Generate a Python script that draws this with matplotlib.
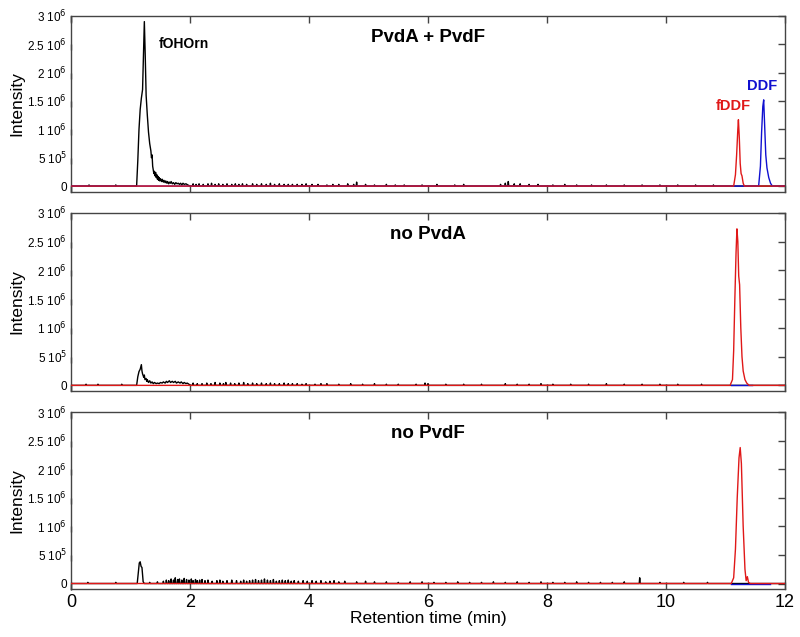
import numpy as np
import matplotlib.pyplot as plt
from matplotlib.ticker import FixedLocator, FixedFormatter

plt.rcParams['font.family'] = ['Liberation Sans', 'DejaVu Sans']

# --- panel 1 : PvdA + PvdF ---
p1_peak_t = [1.00, 1.10, 1.12, 1.14, 1.16, 1.18, 1.20, 1.215, 1.23, 1.245, 1.26, 1.28, 1.30, 1.32,
             1.34, 1.35, 1.36, 1.37, 1.38, 1.39, 1.40, 1.41, 1.42, 1.43, 1.44, 1.45, 1.46, 1.47,
             1.48, 1.49, 1.50, 1.52, 1.53, 1.55, 1.56, 1.58, 1.59, 1.61, 1.62, 1.64, 1.65, 1.67,
             1.68, 1.70, 1.72, 1.74, 1.76, 1.78, 1.80, 1.82, 1.84, 1.86, 1.88, 1.90, 1.93, 1.96,
             2.00]
p1_peak_y = [0.0, 0.0, 0.45, 1.0, 1.35, 1.55, 1.7, 2.3, 2.9, 2.3, 1.6, 1.25, 0.95, 0.75,
             0.62, 0.5, 0.55, 0.35, 0.28, 0.22, 0.26, 0.18, 0.24, 0.15, 0.2, 0.12, 0.17, 0.1,
             0.15, 0.09, 0.13, 0.08, 0.12, 0.07, 0.1, 0.06, 0.09, 0.05, 0.08, 0.04, 0.07, 0.05,
             0.08, 0.04, 0.06, 0.03, 0.06, 0.04, 0.05, 0.03, 0.05, 0.02, 0.05, 0.03, 0.04, 0.02,
             0.0]
p1_noise_t = [0.3, 0.75, 2.05, 2.1, 2.15, 2.22, 2.3, 2.36, 2.42, 2.48, 2.55, 2.62, 2.7, 2.76,
              2.82, 2.88, 2.95, 3.05, 3.12, 3.2, 3.28, 3.35, 3.42, 3.5, 3.58, 3.65, 3.72, 3.8,
              3.88, 3.95, 4.05, 4.15, 4.3, 4.4, 4.5, 4.65, 4.75, 4.8, 4.95, 5.1, 5.3, 5.45, 5.6,
              5.9, 6.15, 6.45, 6.6, 7.22, 7.3, 7.35, 7.45, 7.55, 7.7, 7.85, 8.1, 8.3, 8.5, 8.75,
              9.0, 9.3, 9.6, 9.9, 10.2, 10.5, 10.8]
p1_noise_y = [0.02, 0.02, 0.04, 0.03, 0.04, 0.03, 0.04, 0.05, 0.03, 0.04, 0.03, 0.04, 0.03, 0.04,
              0.03, 0.04, 0.03, 0.04, 0.03, 0.04, 0.03, 0.05, 0.03, 0.04, 0.03, 0.03, 0.03, 0.03,
              0.03, 0.04, 0.03, 0.03, 0.02, 0.03, 0.03, 0.04, 0.03, 0.07, 0.03, 0.02, 0.03, 0.02,
              0.02, 0.02, 0.03, 0.02, 0.03, 0.03, 0.05, 0.08, 0.04, 0.04, 0.03, 0.03, 0.02, 0.03,
              0.02, 0.02, 0.02, 0.02, 0.02, 0.02, 0.02, 0.02, 0.02]
p1_red_t = [11.14, 11.17, 11.19, 11.21, 11.22, 11.235, 11.25, 11.265, 11.28, 11.30, 11.32]
p1_red_y = [0.0, 0.2, 0.55, 1.0, 1.17, 0.85, 0.4, 0.22, 0.18, 0.05, 0.0]
p1_blue_t = [11.56, 11.59, 11.61, 11.63, 11.645, 11.66, 11.68, 11.70, 11.73, 11.76, 11.79]
p1_blue_y = [0.0, 0.35, 0.95, 1.4, 1.52, 1.1, 0.55, 0.32, 0.15, 0.05, 0.0]

# --- panel 2 : no PvdA ---
p2_peak_t = [1.00, 1.10, 1.12, 1.14, 1.16, 1.18, 1.19, 1.20, 1.22, 1.23, 1.24, 1.26, 1.27,
             1.28, 1.30, 1.32, 1.34, 1.36, 1.38, 1.40, 1.43, 1.45, 1.48, 1.50, 1.53, 1.55,
             1.58, 1.60, 1.62, 1.65, 1.67, 1.70, 1.72, 1.75, 1.77, 1.80, 1.83, 1.85, 1.88,
             1.90, 1.93, 1.95, 1.98, 2.0]
p2_peak_y = [0.0, 0.0, 0.15, 0.24, 0.28, 0.36, 0.25, 0.2, 0.14, 0.18, 0.1, 0.12, 0.07,
             0.1, 0.05, 0.08, 0.04, 0.06, 0.03, 0.05, 0.03, 0.04, 0.03, 0.05, 0.04, 0.06,
             0.04, 0.07, 0.05, 0.08, 0.05, 0.07, 0.05, 0.07, 0.04, 0.06, 0.04, 0.06, 0.03,
             0.05, 0.03, 0.04, 0.02, 0.0]
p2_noise_t = [0.25, 0.45, 0.85, 2.05, 2.12, 2.2, 2.28, 2.35, 2.42, 2.5, 2.56, 2.6, 2.68,
              2.75, 2.82, 2.9, 2.97, 3.05, 3.12, 3.2, 3.28, 3.35, 3.42, 3.5, 3.58, 3.65,
              3.72, 3.8, 3.88, 3.95, 4.1, 4.2, 4.3, 4.5, 4.7, 4.9, 5.1, 5.3, 5.5, 5.8, 5.95,
              6.0, 6.3, 6.6, 6.9, 7.3, 7.5, 7.7, 7.9, 8.1, 8.4, 8.7, 9.0, 9.3, 9.6, 9.9,
              10.2, 10.6]
p2_noise_y = [0.02, 0.02, 0.02, 0.04, 0.03, 0.03, 0.04, 0.03, 0.05, 0.04, 0.03, 0.05, 0.04,
              0.03, 0.04, 0.05, 0.03, 0.04, 0.03, 0.04, 0.03, 0.04, 0.03, 0.03, 0.04, 0.03,
              0.03, 0.03, 0.02, 0.03, 0.02, 0.03, 0.03, 0.02, 0.03, 0.02, 0.03, 0.02, 0.02,
              0.02, 0.04, 0.03, 0.02, 0.02, 0.02, 0.03, 0.02, 0.02, 0.03, 0.02, 0.02, 0.02,
              0.03, 0.02, 0.02, 0.02, 0.02, 0.02]
p2_red_t = [11.08, 11.12, 11.14, 11.16, 11.18, 11.195, 11.21, 11.225, 11.24, 11.26, 11.28,
            11.30, 11.33, 11.36, 11.40]
p2_red_y = [0.0, 0.1, 0.6, 1.5, 2.3, 2.72, 2.5, 1.9, 1.75, 1.0, 0.5, 0.25, 0.1, 0.04, 0.0]
p2_blue_t = [11.10, 11.45]
p2_blue_y = [0.0, 0.0]

# --- panel 3 : no PvdF ---
p3_peak_t = [1.00, 1.11, 1.13, 1.145, 1.16, 1.175, 1.19, 1.21, 1.23, 1.30]
p3_peak_y = [0.0, 0.0, 0.2, 0.36, 0.38, 0.3, 0.28, 0.03, 0.0, 0.0]
p3_noise_t = [0.28, 0.75, 1.32, 1.45, 1.55, 1.6, 1.64, 1.68, 1.72, 1.75, 1.79, 1.82, 1.86,
              1.9, 1.94, 1.98, 2.02, 2.05, 2.09, 2.12, 2.16, 2.2, 2.25, 2.3, 2.37, 2.45,
              2.5, 2.55, 2.62, 2.7, 2.78, 2.85, 2.9, 2.95, 3.0, 3.05, 3.1, 3.15, 3.2,
              3.25, 3.3, 3.35, 3.4, 3.45, 3.5, 3.55, 3.6, 3.65, 3.7, 3.75, 3.82, 3.9, 3.97,
              4.05, 4.12, 4.2, 4.28, 4.35, 4.42, 4.5, 4.6, 4.8, 4.95, 5.1, 5.3, 5.5, 5.7,
              5.9, 6.1, 6.3, 6.5, 6.7, 6.9, 7.1, 7.3, 7.5, 7.7, 7.9, 8.1, 8.3, 8.5, 8.7,
              8.9, 9.1, 9.3, 9.56, 9.9, 10.3, 10.7]
p3_noise_y = [0.02, 0.02, 0.02, 0.03, 0.04, 0.06, 0.05, 0.08, 0.06, 0.1, 0.07, 0.08, 0.06,
              0.09, 0.07, 0.06, 0.08, 0.05, 0.07, 0.05, 0.06, 0.07, 0.05, 0.06, 0.04, 0.05,
              0.06, 0.04, 0.05, 0.06, 0.05, 0.04, 0.06, 0.04, 0.05, 0.06, 0.07, 0.05, 0.06,
              0.08, 0.06, 0.05, 0.07, 0.04, 0.05, 0.06, 0.05, 0.06, 0.04, 0.05, 0.04, 0.05,
              0.04, 0.05, 0.04, 0.05, 0.03, 0.04, 0.05, 0.03, 0.04, 0.03, 0.04, 0.03, 0.03,
              0.02, 0.03, 0.03, 0.02, 0.02, 0.03, 0.02, 0.02, 0.03, 0.02, 0.03, 0.02, 0.03,
              0.02, 0.02, 0.03, 0.02, 0.02, 0.02, 0.03, 0.1, 0.02, 0.02, 0.02]
p3_red_t = [11.10, 11.14, 11.17, 11.20, 11.23, 11.25, 11.27, 11.30, 11.33, 11.35, 11.37,
            11.39, 11.42]
p3_red_y = [0.0, 0.1, 0.6, 1.5, 2.2, 2.38, 2.1, 1.0, 0.25, 0.05, 0.12, 0.02, 0.0]
p3_blue_t = [11.10, 11.75]
p3_blue_y = [0.0, 0.0]

titles = ['PvdA + PvdF', 'no PvdA', 'no PvdF']
ytick_vals = [0, 0.5e6, 1e6, 1.5e6, 2e6, 2.5e6, 3e6]
ytick_labels = ['0', r'5 10$^{5}$', r'1 10$^{6}$', r'1.5 10$^{6}$', r'2 10$^{6}$',
                r'2.5 10$^{6}$', r'3 10$^{6}$']


def trace(peak_t, peak_y, noise_t, noise_y):
    # black trace: main peak followed by small baseline spikes
    t = list(peak_t)
    y = [v * 1e6 for v in peak_y]
    for nt, ny in zip(noise_t, noise_y):
        t += [nt - 0.008, nt, nt + 0.008]
        y += [0.0, ny * 1e6, 0.0]
    t = np.array(t)
    y = np.array(y)
    order = np.argsort(t, kind='stable')
    t, y = t[order], y[order]
    return np.concatenate([[0.0], t, [12.0]]), np.concatenate([[0.0], y, [0.0]])


def flat_with_peak(peak_t, peak_y):
    t = np.concatenate([[0.0], peak_t, [12.0]])
    y = np.concatenate([[0.0], np.array(peak_y) * 1e6, [0.0]])
    return t, y


fig = plt.figure(figsize=(8, 6.37), dpi=100)
boxes = [(0.089, 0.699, 0.892, 0.276), (0.089, 0.386, 0.892, 0.280), (0.089, 0.075, 0.892, 0.278)]
axes = [fig.add_axes(b) for b in boxes]

black = [trace(p1_peak_t, p1_peak_y, p1_noise_t, p1_noise_y),
         trace(p2_peak_t, p2_peak_y, p2_noise_t, p2_noise_y),
         trace(p3_peak_t, p3_peak_y, p3_noise_t, p3_noise_y)]
red = [flat_with_peak(p1_red_t, p1_red_y),
       flat_with_peak(p2_red_t, p2_red_y),
       flat_with_peak(p3_red_t, p3_red_y)]
blue = [flat_with_peak(p1_blue_t, p1_blue_y),
        (np.array(p2_blue_t), np.array(p2_blue_y)),
        (np.array(p3_blue_t), np.array(p3_blue_y))]

for i, ax in enumerate(axes):
    ax.plot(*black[i], color='black', lw=1.0, zorder=2)
    ax.plot(*blue[i], color='#1010d0', lw=1.0, zorder=3)
    ax.plot(*red[i], color='#e01818', lw=1.0, zorder=4)
    ax.set_xlim(0, 12)
    ax.set_ylim(-0.1e6, 3e6)
    ax.yaxis.set_major_locator(FixedLocator(ytick_vals))
    ax.yaxis.set_major_formatter(FixedFormatter(ytick_labels))
    ax.set_xticks([0, 2, 4, 6, 8, 10, 12])
    ax.tick_params(axis='x', direction='in', top=True, length=5, width=1, color='#444444',
                   labelsize=13)
    ax.tick_params(axis='y', left=True, right=True, direction='in', length=5,
                   width=1, color='#444444', labelsize=8.5, pad=3)
    for sp in ax.spines.values():
        sp.set_color('#444444')
        sp.set_linewidth(1.0)
    ax.set_ylabel('Intensity', fontsize=12.5, labelpad=2)
    ax.text(0.5, 0.88, titles[i], transform=ax.transAxes, ha='center', va='center',
            fontsize=13.5, fontweight='bold')
    if i < 2:
        ax.tick_params(axis='x', labelbottom=False)

# left ticks point outward, right ticks inward
for ax in axes:
    for tk in ax.yaxis.get_major_ticks():
        tk.tick1line.set_marker(3)  # TICKLEFT
        tk.tick1line.set_markersize(4)

axes[2].set_xlabel('Retention time (min)', fontsize=12.5, labelpad=0)

axes[0].text(1.9, 2.5e6, 'fOHOrn', fontsize=10, fontweight='bold', ha='center', va='center')
axes[0].text(11.13, 1.41e6, 'fDDF', fontsize=10.5, fontweight='bold', color='#e01818',
             ha='center', va='center')
axes[0].text(11.62, 1.76e6, 'DDF', fontsize=10.5, fontweight='bold', color='#1010d0',
             ha='center', va='center')

fig.savefig('out.png', dpi=100)
